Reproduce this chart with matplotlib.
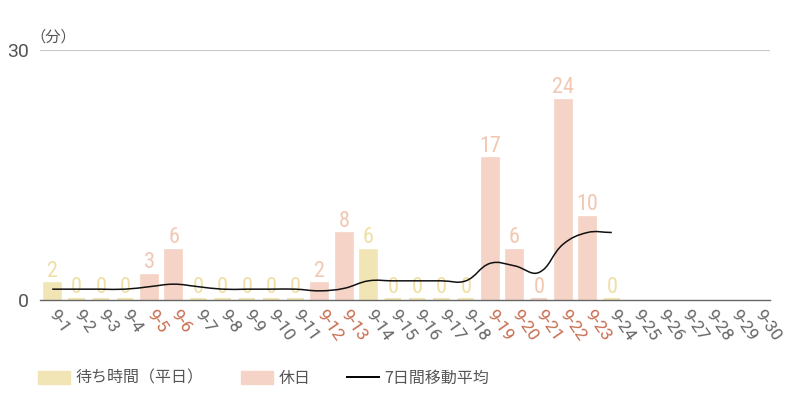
import matplotlib
matplotlib.use("Agg")
import matplotlib.pyplot as plt
from matplotlib.path import Path
from matplotlib.patches import PathPatch, Patch
from matplotlib.lines import Line2D
from matplotlib import font_manager
import numpy as np

plt.rcParams['font.family'] = ['Roboto', 'Noto Sans CJK JP', 'DejaVu Sans']

days = [f"9-{d}" for d in range(1, 31)]
wait = [2, 0, 0, 0, 3, 6, 0, 0, 0, 0, 0, 2, 8, 6, 0, 0, 0, 0, 17, 6, 0, 24, 10, 0]
holiday = [False, False, False, False, True, True, False, False, False, False, False, True,
           True, False, False, False, False, False, True, True, True, True, True, False]
moving_avg = [1.3, 1.3, 1.3, 1.3, 1.6, 1.9, 1.6, 1.3, 1.3, 1.3, 1.3, 1.1, 1.4, 2.3,
              2.3, 2.3, 2.3, 2.3, 4.4, 4.1, 3.3, 6.7, 8.1, 8.1]

weekday_col = '#f1e5b6'
holiday_col = '#f5d3c6'
weekday_txt = '#efdfa5'
holiday_txt = '#f2c7b3'
red_tick = '#c86d4f'
gray = '#666666'

# pick a condensed face for the value labels if one is installed
names = {f.name for f in font_manager.fontManager.ttflist}
narrow = 'DejaVu Sans'
for cand in ['Roboto Condensed', 'Liberation Sans Narrow', 'DejaVu Sans Condensed',
             'Open Sans Condensed', 'Noto Sans Condensed']:
    if cand in names:
        narrow = cand
        break

fig = plt.figure(figsize=(8, 4), dpi=100)
ax = fig.add_axes([0.05, 0.25, 0.9125, 0.625])

x = np.arange(len(wait))
cols = [holiday_col if h else weekday_col for h in holiday]
ax.bar(x, wait, width=0.7, color=cols, edgecolor=cols, linewidth=1.2, zorder=2)
for i, v in enumerate(wait):
    if v == 0:
        # faint base line of an empty bar
        ax.plot([i - 0.33, i + 0.33], [0.1, 0.1], color=cols[i], linewidth=1.5,
                solid_capstyle='butt', zorder=2)
    ax.text(i, v + 0.2, str(v), ha='center', va='bottom', fontsize=16,
            family=narrow, stretch='condensed',
            color=holiday_txt if holiday[i] else weekday_txt, zorder=3)

# smooth moving-average curve (cubic bezier through the points)
sx, sy = 24.33, 8.33
pts = np.column_stack([np.arange(len(moving_avg)), moving_avg]).astype(float)
tension = 0.4
verts = [tuple(pts[0])]
codes = [Path.MOVETO]
n = len(pts)
cps = []
for i in range(n):
    p0 = pts[max(i - 1, 0)]
    p1 = pts[i]
    p2 = pts[min(i + 1, n - 1)]
    d01 = np.hypot((p1[0] - p0[0]) * sx, (p1[1] - p0[1]) * sy)
    d12 = np.hypot((p2[0] - p1[0]) * sx, (p2[1] - p1[1]) * sy)
    tot = d01 + d12 if d01 + d12 > 0 else 1
    fa = tension * d01 / tot
    fb = tension * d12 / tot
    cps.append((p1 - fa * (p2 - p0), p1 + fb * (p2 - p0)))
for i in range(1, n):
    verts += [tuple(cps[i - 1][1]), tuple(cps[i][0]), tuple(pts[i])]
    codes += [Path.CURVE4] * 3
ax.add_patch(PathPatch(Path(verts, codes), facecolor='none', edgecolor='#111111',
                       linewidth=1.1, zorder=4))

ax.set_xlim(-0.5, 29.5)
ax.set_ylim(0, 30)
ax.set_yticks([0, 30])
ax.set_yticklabels(['0', '30'], fontsize=14, color='#555555')
ax.axhline(30, color='#cccccc', linewidth=0.9, zorder=1)
ax.set_xticks(np.arange(30))
ax.set_xticklabels(days, rotation=-55, ha='left', va='center', rotation_mode='anchor',
                   fontsize=12.5, color=gray)
for i, lab in enumerate(ax.get_xticklabels()):
    if i < len(holiday) and holiday[i]:
        lab.set_color(red_tick)
ax.tick_params(axis='y', length=0, pad=8)
ax.tick_params(axis='x', length=0, pad=8)
for s in ['top', 'right', 'left']:
    ax.spines[s].set_visible(False)
ax.spines['bottom'].set_color(gray)
ax.spines['bottom'].set_linewidth(1)
ax.set_facecolor('none')

fig.text(0.038, 0.885, '（分）', fontsize=11, color='#555555',
         family=['Noto Sans CJK JP', 'DejaVu Sans'], ha='left', va='bottom')

handles = [Patch(color=weekday_col), Patch(color=holiday_col),
           Line2D([], [], color='black', linewidth=1.4)]
fig.legend(handles, ['待ち時間（平日）', '休日', '7日間移動平均'], loc='lower left',
           bbox_to_anchor=(0.03, -0.003), ncol=3, frameon=False,
           handlelength=2.0, handleheight=0.9, columnspacing=2.3, handletextpad=0.35,
           labelcolor='#555555', prop={'family': ['Noto Sans CJK JP', 'DejaVu Sans'], 'size': 11.5})

fig.savefig('out.png', dpi=100)
